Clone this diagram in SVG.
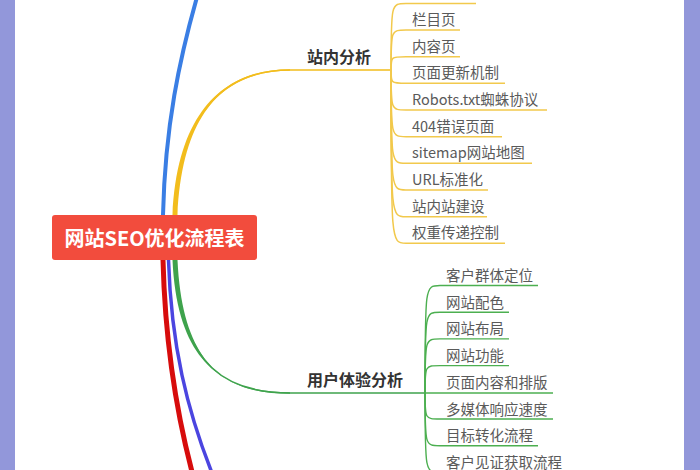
<svg xmlns="http://www.w3.org/2000/svg" width="700" height="470" viewBox="0 0 700 470">
<style>
.root{font-family:"Noto Sans CJK SC","Noto Sans",sans-serif;font-size:20px;font-weight:bold;fill:#ffffff}
.br{font-family:"Noto Sans CJK SC","Noto Sans",sans-serif;font-size:16px;font-weight:bold;fill:#333333}
.it{font-family:"Noto Sans CJK SC","Noto Sans",sans-serif;font-size:14.5px;fill:#5a5a5a}
.ys{fill:none;stroke:#f2c94c;stroke-width:1.5}
.gs{fill:none;stroke:#4caf50;stroke-width:1.4}
</style>
<rect x="0" y="0" width="700" height="470" fill="#ffffff"/>
<rect x="0" y="0" width="15" height="470" fill="#9297da"/>
<rect x="684" y="0" width="16" height="470" fill="#9297da"/>
<g id="connectors">
  <path d="M163,215 C165,130 178,60 202,-20" fill="none" stroke="#3a7ee4" stroke-width="4"/>
  <path d="M172.5,215 C177.5,105 230,69.2 290,69.2 L290,70.8 C230,70.8 182.5,105 177.5,215 Z" fill="#f2bd1d"/>
  <path d="M175,215 C180,105 230,70 290,70 H391" fill="none" stroke="#f2bd1d" stroke-width="1.6"/>
  <path d="M163,260 C165,340 177,420 197,490" fill="none" stroke="#d70c0c" stroke-width="5"/>
  <path d="M168.5,260 C171,340 185,410 219,490" fill="none" stroke="#4b45e0" stroke-width="3.5"/>
  <path d="M172.5,260 C177.5,370 230,392.2 290,392.2 L290,393.8 C230,393.8 182.5,370 177.5,260 Z" fill="#3fa34d"/>
  <path d="M175,260 C180,370 230,393 290,393 H425" fill="none" stroke="#3fa34d" stroke-width="1.6"/>
  <path class="ys" d="M391,70 C391,3.5 391,3.5 406,3.5 H476"/>
  <path class="ys" d="M391,70 C391,30 391,30 406,30 H460"/>
  <path class="ys" d="M391,70 C391,56.7 391,56.7 406,56.7 H460"/>
  <path class="ys" d="M391,70 C391,83.3 391,83.3 406,83.3 H505"/>
  <path class="ys" d="M391,70 C391,110 391,110 406,110 H547"/>
  <path class="ys" d="M391,70 C391,136.7 391,136.7 406,136.7 H502"/>
  <path class="ys" d="M391,70 C391,163.3 391,163.3 406,163.3 H532"/>
  <path class="ys" d="M391,70 C391,190 391,190 406,190 H488"/>
  <path class="ys" d="M391,70 C391,216.7 391,216.7 406,216.7 H487"/>
  <path class="ys" d="M391,70 C391,243.3 391,243.3 406,243.3 H505"/>
  <path class="gs" d="M425,393 C425,285.5 425,285.5 440,285.5 H538"/>
  <path class="gs" d="M425,393 C425,312.2 425,312.2 440,312.2 H509"/>
  <path class="gs" d="M425,393 C425,338.9 425,338.9 440,338.9 H509"/>
  <path class="gs" d="M425,393 C425,365.6 425,365.6 440,365.6 H509"/>
  <path class="gs" d="M425,393 H553"/>
  <path class="gs" d="M425,393 C425,419 425,419 440,419 H553"/>
  <path class="gs" d="M425,393 C425,445.7 425,445.7 440,445.7 H538"/>
  <path class="gs" d="M425,393 C425,472.4 425,472.4 440,472.4 H560"/>
</g>
<g id="root">
  <rect x="52" y="215" width="205" height="45" rx="3" fill="#f24c3d"/>
  <text class="root" x="154.5" y="246" text-anchor="middle">网站SEO优化流程表</text>
</g>
<g id="onsite">
  <text class="br" x="307" y="63">站内分析</text>
</g>
<g id="onsite-items">
  <text class="it" x="412" y="25">栏目页</text>
  <text class="it" x="412" y="51.7">内容页</text>
  <text class="it" x="412" y="78.3">页面更新机制</text>
  <text class="it" x="412" y="105">Robots.txt蜘蛛协议</text>
  <text class="it" x="412" y="131.7">404错误页面</text>
  <text class="it" x="412" y="158.3">sitemap网站地图</text>
  <text class="it" x="412" y="185">URL标准化</text>
  <text class="it" x="412" y="211.7">站内站建设</text>
  <text class="it" x="412" y="238.3">权重传递控制</text>
</g>
<g id="ux">
  <text class="br" x="307" y="386">用户体验分析</text>
</g>
<g id="ux-items">
  <text class="it" x="446" y="281">客户群体定位</text>
  <text class="it" x="446" y="307.7">网站配色</text>
  <text class="it" x="446" y="334.4">网站布局</text>
  <text class="it" x="446" y="361.1">网站功能</text>
  <text class="it" x="446" y="387.8">页面内容和排版</text>
  <text class="it" x="446" y="414.5">多媒体响应速度</text>
  <text class="it" x="446" y="441.2">目标转化流程</text>
  <text class="it" x="446" y="467.9">客户见证获取流程</text>
</g>
</svg>
